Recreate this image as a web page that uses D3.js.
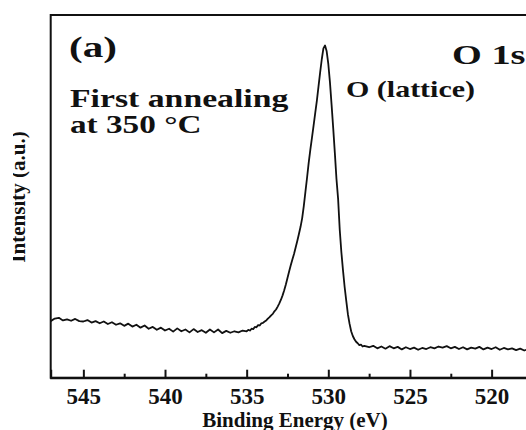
<!DOCTYPE html>
<html>
<head>
<meta charset="utf-8">
<script src="https://cdn.jsdelivr.net/npm/d3@7"></script>
<style>
  body { margin: 0; background: #fff; }
  svg { display: block; font-family: "Liberation Serif", "Times New Roman", serif; font-weight: bold; }
</style>
</head>
<body>
<svg width="526" height="430"></svg>
<script>
// binding energy (eV) and intensity (a.u.)
const ENERGY = [
  547.00, 546.75, 546.50, 546.25, 546.00, 545.75, 545.50, 545.25, 545.00, 544.75,
  544.50, 544.25, 544.00, 543.75, 543.50, 543.25, 543.00, 542.75, 542.50, 542.25,
  542.00, 541.75, 541.50, 541.25, 541.00, 540.75, 540.50, 540.25, 540.00, 539.75,
  539.50, 539.25, 539.00, 538.75, 538.50, 538.25, 538.00, 537.75, 537.50, 537.25,
  537.00, 536.75, 536.50, 536.25, 536.00, 535.75, 535.50, 535.25,
  535.0, 534.9, 534.8, 534.7, 534.6, 534.5, 534.4, 534.3, 534.2, 534.1,
  534.0, 533.9, 533.8, 533.7, 533.6, 533.5, 533.4, 533.3, 533.2, 533.1,
  533.0, 532.9, 532.8, 532.7, 532.6, 532.5, 532.4, 532.3, 532.2, 532.1,
  532.0, 531.9, 531.8, 531.7, 531.6, 531.5, 531.4, 531.3, 531.2, 531.1,
  531.0, 530.9, 530.8, 530.7, 530.6, 530.5, 530.4, 530.3, 530.2, 530.1,
  530.0, 529.9, 529.8, 529.7, 529.6, 529.5, 529.4, 529.3, 529.2, 529.1,
  529.0, 528.9, 528.8, 528.7, 528.6, 528.5, 528.4, 528.3, 528.2, 528.1,
  528.0, 527.9, 527.8,
  527.50, 527.25, 527.00, 526.75, 526.50, 526.25, 526.00, 525.75, 525.50, 525.25,
  525.00, 524.75, 524.50, 524.25, 524.00, 523.75, 523.50, 523.25, 523.00, 522.75,
  522.50, 522.25, 522.00, 521.75, 521.50, 521.25, 521.00, 520.75, 520.50, 520.25,
  520.00, 519.75, 519.50, 519.25, 519.00, 518.75, 518.50, 518.25, 518.00, 517.75,
  517.50, 517.25, 517.00
];

const INTENSITY = [
  15.6, 16.3, 16.5, 15.8, 16.1, 15.7, 16.2, 15.6, 15.5, 15.9,
  15.2, 15.6, 15.0, 15.5, 14.8, 15.3, 14.6, 15.0, 14.3, 14.9,
  14.1, 14.6, 13.8, 14.4, 13.5, 14.0, 13.2, 13.8, 13.0, 13.5,
  12.7, 13.6, 12.8, 13.3, 12.5, 13.4, 12.6, 13.1, 12.4, 13.3,
  12.5, 13.3, 12.3, 12.9, 12.4, 12.8, 12.5, 13.0,
  12.8, 13.2, 13.0, 13.5, 13.4, 14.0, 13.9, 14.5, 14.4, 15.0,
  15.1, 15.5, 15.8, 16.3, 16.7, 17.2, 17.6, 18.3, 18.8, 19.6,
  20.5, 21.5, 22.7, 24.1, 25.7, 27.5, 29.3, 31.0, 32.6, 34.1,
  35.9, 37.7, 39.6, 41.6, 44.0, 47.4, 51.3, 55.2, 59.3, 62.9,
  66.2, 69.6, 73.0, 76.4, 80.3, 84.2, 87.8, 90.8, 91.6, 90.0,
  86.5, 81.5, 75.3, 68.8, 62.0, 54.8, 49.3, 40.8, 34.6, 29.6,
  25.0, 21.2, 17.5, 14.9, 12.8, 11.5, 10.6, 9.9, 9.5, 9.0,
  9.1, 8.6, 8.8,
  8.4, 8.8, 8.1, 8.6, 8.0, 8.7, 8.1, 8.5, 7.8, 8.4,
  7.9, 8.3, 7.7, 8.2, 7.9, 8.4, 8.1, 8.6, 8.3, 8.7,
  8.1, 8.5, 7.9, 8.4, 7.8, 8.3, 8.0, 8.5, 7.8, 8.3,
  7.9, 8.4, 7.7, 8.2, 7.8, 8.1, 7.6, 8.0, 7.5, 7.9,
  7.4, 7.8, 7.5
];

const X_DOMAIN = [547, 517];
const MAJOR_TICKS = [545, 540, 535, 530, 525, 520];
const MINOR_TICKS = [542.5, 537.5, 532.5, 527.5, 522.5];

var svg = d3.select("svg");

var mLeft = 50.7, mTop = 15, mBottom = 377.7;
var pxPerEv = 16.33;

var x = d3.scaleLinear().domain(X_DOMAIN).range([mLeft, mLeft + 30 * pxPerEv]);
var y = d3.scaleLinear().domain([0, 100]).range([mBottom, mTop]);

// frame (right side runs off the picture like the original)
svg.append("rect")
   .attr("x", mLeft)
   .attr("y", mTop)
   .attr("width", x(X_DOMAIN[1]) - mLeft)
   .attr("height", mBottom - mTop)
   .attr("fill", "none")
   .attr("stroke", "#111")
   .attr("stroke-width", 2);

var data = ENERGY.map(function(e, i) { return [e, INTENSITY[i]]; });

svg.append("path")
   .datum(data)
   .attr("fill", "none")
   .attr("stroke", "#111")
   .attr("stroke-width", 1.8)
   .attr("stroke-linejoin", "round")
   .attr("d", d3.line()
       .x(function(d) { return x(d[0]); })
       .y(function(d) { return y(d[1]); }));

// bottom axis, ticks point inward
var gx = svg.append("g")
   .attr("transform", "translate(0," + mBottom + ")")
   .call(d3.axisBottom(x).tickValues(MAJOR_TICKS).tickSize(-8).tickPadding(10).tickFormat(d3.format("d")));
gx.select(".domain").attr("stroke", "#111").attr("stroke-width", 2);
gx.selectAll(".tick line").attr("stroke", "#111").attr("stroke-width", 2);
gx.selectAll(".tick text")
  .attr("font-family", "Liberation Serif")
  .attr("font-weight", "bold")
  .attr("font-size", "23px")
  .attr("fill", "#111");

var gm = svg.append("g")
   .attr("transform", "translate(0," + mBottom + ")")
   .call(d3.axisBottom(x).tickValues(MINOR_TICKS).tickSize(-4).tickFormat(""));
gm.select(".domain").remove();
gm.selectAll(".tick line").attr("stroke", "#111").attr("stroke-width", 2);

svg.append("text")
   .attr("x", 295)
   .attr("y", 426.5)
   .attr("text-anchor", "middle")
   .attr("font-size", "21px")
   .attr("fill", "#111")
   .text("Binding Energy (eV)");

// y label, its top edge is clipped in the source picture
svg.append("clipPath").attr("id", "ylab")
   .append("rect").attr("x", 13).attr("y", 0).attr("width", 30).attr("height", 430);

svg.append("g").attr("clip-path", "url(#ylab)")
   .append("text")
   .attr("transform", "translate(25,197) rotate(-90)")
   .attr("text-anchor", "middle")
   .attr("font-size", "21px")
   .attr("fill", "#111")
   .text("Intensity (a.u.)");

// annotations (wide bold serif)
function note(txt, px, py, size, sx) {
  svg.append("text")
     .attr("transform", "translate(" + px + "," + py + ") scale(" + sx + ",1)")
     .attr("font-size", size + "px")
     .attr("fill", "#111")
     .text(txt);
}

note("(a)", 69, 57, 30, 1.37);
note("First annealing", 70, 107, 25, 1.35);
note("at 350 °C", 70, 133, 25, 1.33);
note("O (lattice)", 346, 97, 24, 1.25);
note("O 1s", 452, 63.5, 27, 1.42);
</script>
</body>
</html>
